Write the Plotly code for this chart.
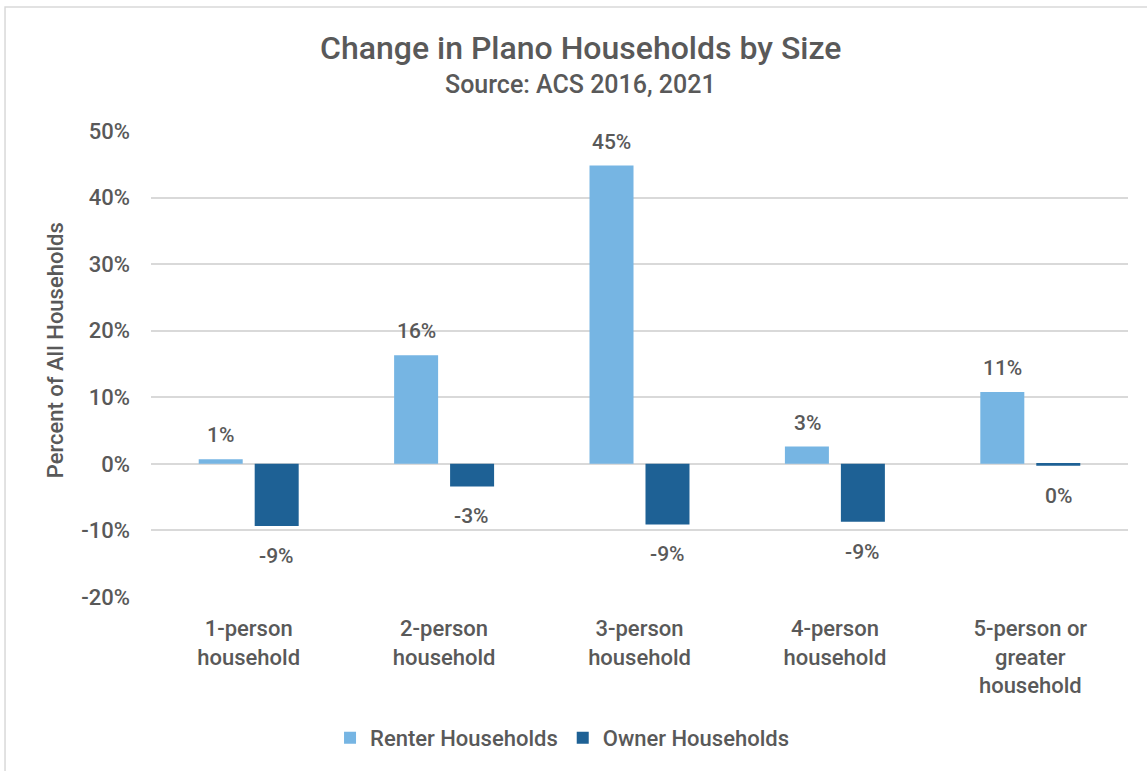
import plotly.graph_objects as go

# Household size categories and percent change 2016 -> 2021
categories = [
    "1-person<br>household",
    "2-person<br>household",
    "3-person<br>household",
    "4-person<br>household",
    "5-person or<br>greater<br>household",
]
renter_change = [0.7, 16.3, 44.8, 2.6, 10.8]
owner_change = [-9.35, -3.4, -9.1, -8.7, -0.3]

series_names = ["Renter Households", "Owner Households"]
series_colors = ["#76B5E3", "#1E6195"]

y_ticks = [-20, -10, 0, 10, 20, 30, 40, 50]
y_tick_labels = ["-20%", "-10%", "0%", "10%", "20%", "30%", "40%", "50%"]

TEXT = "#595959"
GRID = "#D9D9D9"
FONT = "Roboto, Arial, sans-serif"
W = 500

fig = go.Figure()
for name, vals, color in zip(series_names, [renter_change, owner_change], series_colors):
    fig.add_trace(go.Bar(
        x=categories, y=vals, name=name,
        marker=dict(color=color, line=dict(width=0)),
        hoverinfo="skip",
    ))

# Data labels placed just beyond the end of each bar
annotations = []
for vals, xshift in [(renter_change, -27.8), (owner_change, 27.8)]:
    for cat, v in zip(categories, vals):
        annotations.append(dict(
            x=cat, y=v, xref="x", yref="y",
            text=f"{round(v)}%", showarrow=False,
            xshift=xshift, yshift=24 if v > 0 else -30,
            yanchor="middle", xanchor="center",
            font=dict(size=21, color=TEXT, family=FONT, weight=W),
        ))

# Title, subtitle and y-axis title
annotations += [
    dict(x=0.44, y=1.178, xref="paper", yref="paper", showarrow=False,
         text="Change in Plano Households by Size",
         font=dict(size=32, color=TEXT, family=FONT, weight=W), xanchor="center", yanchor="middle"),
    dict(x=0.44, y=1.099, xref="paper", yref="paper", showarrow=False,
         text="Source: ACS 2016, 2021",
         font=dict(size=25, color=TEXT, family=FONT, weight=W), xanchor="center", yanchor="middle"),
    dict(x=-0.098, y=0.53, xref="paper", yref="paper", showarrow=False,
         text="Percent of All Households", textangle=-90,
         font=dict(size=22, color=TEXT, family=FONT, weight=W), xanchor="center", yanchor="middle"),
]

fig.update_layout(
    width=1147, height=771,
    margin=dict(l=151, r=19, t=131, b=174),
    paper_bgcolor="white", plot_bgcolor="white",
    font=dict(family=FONT, color=TEXT),
    barmode="group", bargap=0.427, bargroupgap=0.214,
    showlegend=True,
    legend=dict(
        orientation="h", xref="container", x=0.49, xanchor="center",
        yref="container", y=0.043, yanchor="middle",
        font=dict(size=22, color=TEXT, family=FONT, weight=W),
        itemwidth=30, traceorder="normal",
    ),
    annotations=annotations,
    shapes=[dict(
        type="rect", xref="paper", yref="paper",
        x0=-0.1494, x1=1.03, y0=-0.39, y1=1.266,
        line=dict(color=GRID, width=1.5), fillcolor="rgba(0,0,0,0)", layer="below",
    )],
)

fig.update_xaxes(
    showgrid=False, showline=False, zeroline=False, ticks="",
    tickfont=dict(size=22, color=TEXT, family=FONT, weight=W),
    ticklabelstandoff=16,
)
fig.update_yaxes(
    range=[-20, 50], tickvals=y_ticks, ticktext=y_tick_labels,
    showgrid=True, gridcolor=GRID, gridwidth=1.5,
    zeroline=True, zerolinecolor=GRID, zerolinewidth=1.5,
    showline=False, ticks="",
    tickfont=dict(size=22, color=TEXT, family=FONT, weight=W),
    ticklabelstandoff=20,
)

fig.write_html("out.html")
